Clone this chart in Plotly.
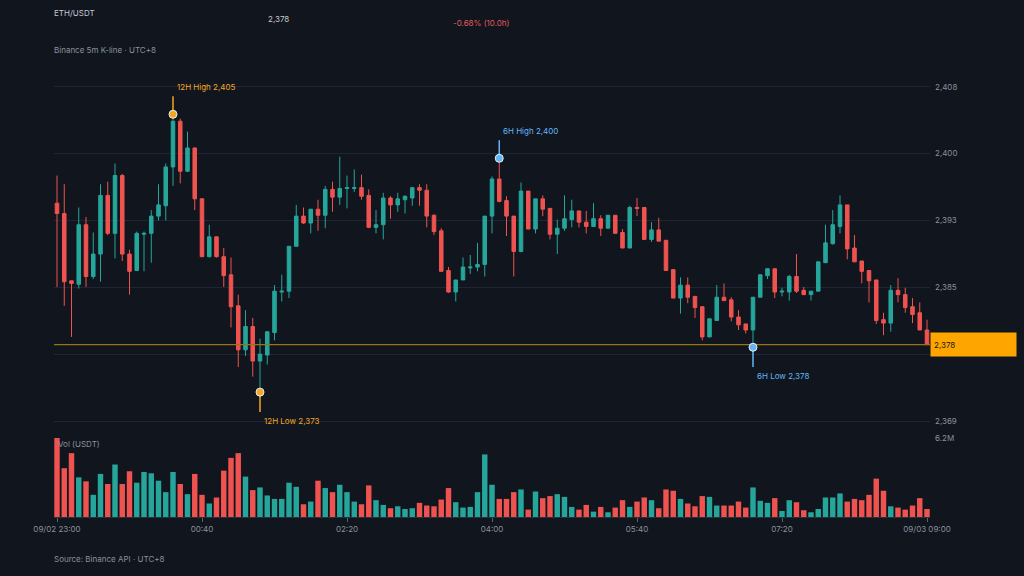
import plotly.graph_objects as go

tick_idx = [0, 20, 40, 60, 80, 100, 120]
tick_labels = ["09/02 23:00", "00:40", "02:20", "04:00", "05:40", "07:20", "09/03 09:00"]

opens = [2394.5, 2393.3, 2385.5, 2385.1, 2392.0, 2386.0, 2388.6, 2395.4, 2391.0, 2397.7,
         2388.6, 2386.7, 2390.9, 2391.0, 2393.0, 2394.2, 2398.7, 2404.0, 2398.2, 2400.9,
         2395.0, 2388.3, 2390.6, 2388.3, 2386.2, 2382.6, 2377.5, 2380.2, 2376.2, 2376.9,
         2379.5, 2384.2, 2384.3, 2389.5, 2393.0, 2392.2, 2393.8, 2393.1, 2396.1, 2395.2,
         2396.2, 2396.2, 2396.3, 2395.4, 2391.7, 2392.0, 2395.1, 2394.3, 2394.9, 2395.1,
         2396.3, 2396.0, 2393.1, 2391.3, 2386.7, 2384.2, 2385.6, 2387.0, 2387.1, 2387.4,
         2393.0, 2397.3, 2394.8, 2393.0, 2388.9, 2395.9, 2391.5, 2395.0, 2393.9, 2390.9,
         2391.6, 2392.6, 2393.6, 2392.3, 2391.8, 2392.7, 2391.6, 2393.1, 2391.1, 2389.3,
         2394.0, 2394.0, 2390.3, 2391.4, 2390.2, 2386.8, 2383.5, 2385.0, 2383.7, 2382.5,
         2379.0, 2380.9, 2383.6, 2383.3, 2381.3, 2380.5, 2379.8, 2383.6, 2386.1, 2386.9,
         2384.2, 2384.2, 2386.0, 2384.4, 2383.9, 2384.3, 2387.6, 2389.8, 2391.8, 2394.3,
         2389.3, 2387.8, 2386.7, 2385.6, 2381.0, 2380.6, 2384.4, 2383.9, 2382.5, 2381.8,
         2379.8]
closes = [2393.3, 2385.4, 2385.2, 2392.0, 2386.0, 2388.6, 2395.4, 2391.0, 2397.7, 2388.6,
          2386.6, 2391.0, 2391.0, 2393.0, 2394.3, 2398.7, 2404.0, 2398.2, 2400.9, 2395.0,
          2388.3, 2390.6, 2388.3, 2386.1, 2382.5, 2377.5, 2380.2, 2376.2, 2377.0, 2379.6,
          2384.3, 2384.3, 2389.5, 2393.0, 2392.2, 2393.8, 2393.1, 2396.1, 2395.2, 2396.2,
          2396.3, 2396.3, 2395.3, 2391.7, 2392.0, 2395.1, 2394.3, 2395.0, 2395.3, 2396.3,
          2396.0, 2393.0, 2391.2, 2386.6, 2384.2, 2385.6, 2387.1, 2387.1, 2387.4, 2393.0,
          2397.3, 2394.7, 2393.0, 2388.9, 2395.9, 2391.5, 2395.0, 2393.8, 2390.9, 2391.6,
          2392.7, 2393.6, 2392.3, 2391.8, 2392.7, 2391.6, 2393.1, 2391.0, 2389.3, 2394.0,
          2393.9, 2390.3, 2391.4, 2390.1, 2386.7, 2383.5, 2385.0, 2383.6, 2382.4, 2379.0,
          2381.1, 2383.6, 2383.2, 2381.3, 2380.4, 2379.8, 2383.6, 2386.2, 2386.9, 2384.2,
          2384.3, 2386.0, 2384.3, 2383.9, 2384.3, 2387.7, 2389.9, 2392.0, 2394.3, 2389.2,
          2387.7, 2386.6, 2385.5, 2380.9, 2380.6, 2384.4, 2383.9, 2382.4, 2381.6, 2379.8,
          2378.1]
highs = [2397.7, 2396.7, 2385.5, 2394.0, 2392.9, 2391.1, 2396.7, 2397.0, 2399.1, 2397.9,
         2389.1, 2391.2, 2391.2, 2393.7, 2396.7, 2399.1, 2404.8, 2404.3, 2402.8, 2400.9,
         2395.1, 2392.0, 2390.6, 2389.3, 2388.2, 2383.9, 2382.1, 2381.2, 2378.8, 2379.6,
         2385.0, 2386.2, 2389.5, 2394.3, 2394.0, 2393.8, 2394.9, 2396.5, 2397.0, 2399.9,
         2397.7, 2398.4, 2397.8, 2396.1, 2393.7, 2395.7, 2395.3, 2395.7, 2395.4, 2396.3,
         2396.7, 2396.7, 2393.2, 2391.6, 2387.1, 2385.6, 2388.2, 2388.5, 2389.9, 2393.0,
         2397.6, 2399.7, 2395.3, 2393.0, 2396.9, 2395.9, 2395.0, 2395.4, 2393.9, 2392.6,
         2395.4, 2394.9, 2393.6, 2393.6, 2394.5, 2393.1, 2393.1, 2393.1, 2391.5, 2394.2,
         2395.1, 2394.0, 2392.3, 2392.8, 2390.2, 2386.8, 2385.9, 2385.9, 2383.7, 2382.5,
         2381.1, 2385.0, 2385.2, 2383.6, 2382.1, 2380.5, 2383.6, 2386.2, 2386.9, 2386.9,
         2384.7, 2386.2, 2388.6, 2384.8, 2384.3, 2387.7, 2392.0, 2393.7, 2395.4, 2394.3,
         2390.8, 2387.8, 2386.7, 2385.6, 2381.8, 2385.0, 2385.8, 2384.7, 2383.5, 2383.0,
         2381.0]
lows = [2384.8, 2382.6, 2379.0, 2384.6, 2384.8, 2385.7, 2385.4, 2390.8, 2388.1, 2387.8,
        2383.9, 2386.7, 2386.6, 2387.6, 2392.5, 2392.5, 2396.5, 2396.8, 2398.1, 2393.7,
        2388.3, 2388.2, 2388.2, 2384.8, 2380.1, 2375.5, 2376.8, 2374.4, 2372.6, 2375.8,
        2378.6, 2383.1, 2383.5, 2389.5, 2392.1, 2391.0, 2391.3, 2391.6, 2393.5, 2394.3,
        2393.9, 2395.8, 2394.9, 2391.6, 2391.0, 2390.3, 2392.7, 2393.5, 2393.3, 2394.2,
        2394.2, 2391.7, 2390.8, 2386.6, 2384.1, 2383.1, 2385.6, 2386.3, 2386.6, 2386.0,
        2391.0, 2394.6, 2390.7, 2386.0, 2388.8, 2391.5, 2391.0, 2393.0, 2390.3, 2388.6,
        2391.3, 2391.7, 2391.7, 2391.0, 2391.8, 2390.7, 2391.6, 2391.0, 2389.3, 2389.3,
        2393.0, 2390.3, 2390.0, 2390.1, 2386.7, 2383.5, 2381.7, 2382.9, 2381.2, 2378.6,
        2379.0, 2380.9, 2383.2, 2380.8, 2379.8, 2379.4, 2377.8, 2383.6, 2385.7, 2383.5,
        2383.7, 2383.2, 2384.1, 2383.9, 2383.2, 2384.3, 2387.6, 2389.7, 2391.0, 2388.0,
        2387.7, 2385.2, 2383.0, 2380.5, 2379.2, 2379.6, 2383.0, 2381.8, 2380.6, 2379.8,
        2378.1]
volumes_m = [6.2, 3.83, 5.01, 3.11, 2.80, 1.74, 3.38, 2.59, 4.12, 2.59,
             3.59, 2.69, 3.53, 3.43, 2.85, 1.95, 3.53, 2.59, 1.79, 3.38,
             1.74, 1.06, 1.53, 3.64, 4.64, 5.01, 3.17, 2.11, 2.32, 1.69,
             1.42, 1.42, 2.69, 2.37, 1.00, 1.21, 2.85, 2.27, 1.95, 2.53,
             1.95, 1.21, 1.00, 2.48, 1.32, 0.95, 0.69, 0.84, 0.63, 0.69,
             1.11, 0.90, 0.84, 1.37, 2.27, 1.16, 0.74, 0.79, 1.95, 4.91,
             2.53, 1.42, 1.42, 1.95, 2.16, 0.58, 2.00, 1.48, 1.64, 1.79,
             1.58, 0.79, 0.58, 0.95, 0.42, 0.79, 0.37, 0.74, 1.32, 0.79,
             1.21, 1.53, 1.32, 0.69, 2.16, 2.06, 1.42, 1.06, 0.84, 1.64,
             1.58, 0.90, 0.90, 0.90, 1.21, 0.74, 2.32, 1.27, 1.11, 1.48,
             0.47, 1.32, 1.16, 0.53, 0.37, 0.63, 1.53, 1.53, 1.85, 1.21,
             1.42, 1.32, 1.74, 3.01, 2.06, 0.84, 0.74, 0.58, 0.90, 1.48,
             0.63]
price_ticks = [2369.25, 2377.0, 2384.75, 2392.5, 2400.25, 2408.0]

UP, DN = "#26a69a", "#ef5350"
BG = "#10151e"
GRID = "#1f2633"
TXT = "#8a929c"
FONT = "Inter"

def fmt(v):
    return f"{int(v + 0.5):,}"

x = list(range(len(opens)))
volumes = [v * 1e6 for v in volumes_m]
vcolors = [UP if c >= o else DN for o, c in zip(opens, closes)]

fig = go.Figure()
fig.add_trace(go.Candlestick(
    x=x, open=opens, high=highs, low=lows, close=closes,
    increasing=dict(line=dict(color=UP, width=1), fillcolor=UP),
    decreasing=dict(line=dict(color=DN, width=1), fillcolor=DN),
    whiskerwidth=0, showlegend=False, hoverinfo="skip", xaxis="x", yaxis="y"))
fig.add_trace(go.Bar(x=x, y=volumes, marker=dict(color=vcolors, line=dict(width=0)),
                     width=0.75, showlegend=False, xaxis="x2", yaxis="y2", hoverinfo="skip"))

last = closes[-1]
fig.add_trace(go.Scatter(x=[-0.5, len(x) - 0.5], y=[last, last], mode="lines",
                         line=dict(color="#9a7414", width=1.2), showlegend=False,
                         hoverinfo="skip", xaxis="x", yaxis="y"))

def marker(idx, val, up, color, label):
    stem = 2.1 if up else -2.3
    fig.add_trace(go.Scatter(x=[idx, idx], y=[val, val + stem], mode="lines",
                             line=dict(color=color, width=1.5), showlegend=False,
                             hoverinfo="skip", xaxis="x", yaxis="y"))
    fig.add_trace(go.Scatter(x=[idx], y=[val], mode="markers",
                             marker=dict(color=color, size=8, line=dict(color="#e8eef4", width=1)),
                             showlegend=False, hoverinfo="skip", xaxis="x", yaxis="y"))
    fig.add_annotation(x=idx, y=val + stem, xref="x", yref="y", text=label, showarrow=False,
                       xanchor="left", yanchor="bottom" if up else "top", xshift=2,
                       yshift=2 if up else -2, font=dict(color=color, size=8, family=FONT))

h12 = max(range(len(highs)), key=lambda i: highs[i])
l12 = min(range(len(lows)), key=lambda i: lows[i])
w6 = len(x) - 72
h6 = max(range(w6, len(x)), key=lambda i: highs[i])
l6 = min(range(w6, len(x)), key=lambda i: lows[i])
ORANGE, BLUE = "#f5a623", "#64b5f6"
marker(h12, highs[h12], True, ORANGE, f"12H High {fmt(highs[h12])}")
marker(l12, lows[l12], False, ORANGE, f"12H Low {fmt(lows[l12])}")
marker(h6, highs[h6], True, BLUE, f"6H High {fmt(highs[h6])}")
marker(l6, lows[l6], False, BLUE, f"6H Low {fmt(lows[l6])}")

change = (closes[-1] - opens[0]) / opens[0] * 100
H = 576
def fy(px):
    return 1 - px / H

x0d, x1d = 54 / 1024, 930 / 1024
xr = [-0.414, len(x) - 1 + 0.414]
fig.update_layout(
    width=1024, height=576, paper_bgcolor=BG, plot_bgcolor=BG,
    margin=dict(l=0, r=0, t=0, b=0, autoexpand=False),
    font=dict(family=FONT, color=TXT, size=8),
    xaxis=dict(domain=[x0d, x1d], range=xr, showgrid=False, showticklabels=False,
               zeroline=False, anchor="y", automargin=False),
    xaxis2=dict(domain=[x0d, x1d], range=xr, showgrid=False, zeroline=False,
                tickvals=tick_idx, ticktext=tick_labels, ticks="outside", ticklen=4,
                tickcolor="#5a626c", tickfont=dict(size=8, color=TXT), anchor="y2",
                showline=True, linecolor="#2a313c", automargin=False),
    yaxis=dict(domain=[fy(425), fy(80)], range=[2368.79, 2408.775], side="right",
               tickvals=price_ticks, ticktext=[fmt(v) if v != 2377.0 else "" for v in price_ticks],
               gridcolor=GRID, gridwidth=1, zeroline=False, showline=False,
               tickfont=dict(size=8, color=TXT), ticklabelstandoff=4, anchor="x", automargin=False),
    yaxis2=dict(domain=[fy(517), fy(438)], range=[0, 6.2e6], side="right",
                tickvals=[6.2e6], ticktext=["6.2M"], gridcolor=GRID, zeroline=False,
                tickfont=dict(size=8, color=TXT), ticklabelstandoff=4, anchor="x2", automargin=False),
)
fig.update_xaxes(rangeslider_visible=False)

fig.add_annotation(x=x1d, y=last, xref="paper", yref="y", text=fmt(last), showarrow=False,
                   xanchor="left", yanchor="middle", bgcolor="#ffa500", width=79, height=17,
                   borderpad=3, align="left", font=dict(color="#1a1a1a", size=8, family=FONT))

def text(xp, yp, s, color=TXT, size=8):
    fig.add_annotation(x=xp / 1024, y=fy(yp), xref="paper", yref="paper", text=s, showarrow=False,
                       xanchor="left", yanchor="middle", font=dict(color=color, size=size, family=FONT))

text(52, 13, "ETH/USDT", "#c5cad1")
text(266, 19, fmt(last), "#c5cad1")
text(451, 23, f"{change:.2f}% (10.0h)", "#e05a5a")
text(52, 50, "Binance 5m K-line · UTC+8")
text(56, 444, "Vol (USDT)")
text(52, 559, "Source: Binance API · UTC+8")

fig.write_html("out.html", config={"displayModeBar": False},
               post_script="document.body.style.margin='0';document.body.style.background='#10151e';document.body.style.overflow='hidden';")
